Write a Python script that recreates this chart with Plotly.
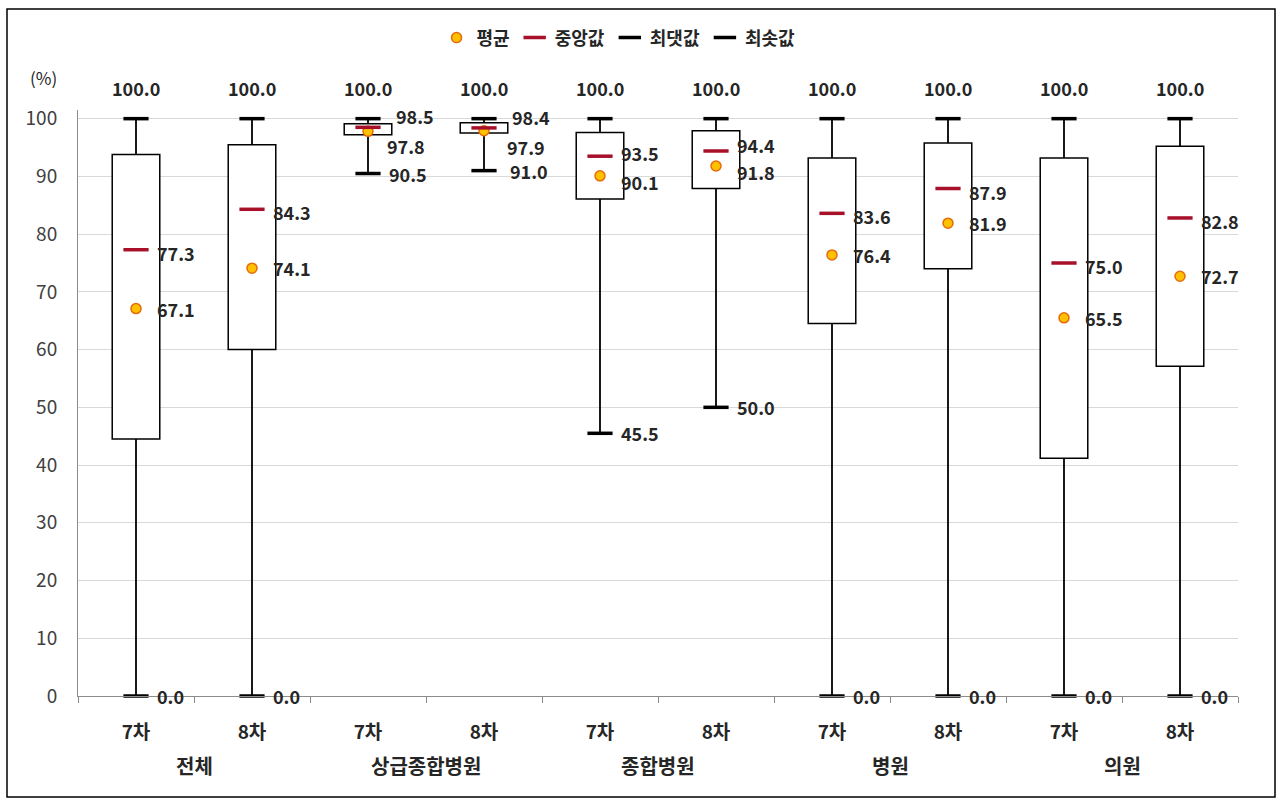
import plotly.graph_objects as go

# ---------------- data ----------------
groups = ["전체", "상급종합병원", "종합병원", "병원", "의원"]
rounds = ["7차", "8차"]
q1 = [44.5, 60.0, 97.2, 97.5, 86.1, 87.9, 64.5, 74.0, 41.2, 57.1]
q3 = [93.8, 95.5, 99.1, 99.3, 97.6, 97.9, 93.2, 95.8, 93.2, 95.2]
median = [77.3, 84.3, 98.5, 98.4, 93.5, 94.4, 83.6, 87.9, 75.0, 82.8]
mean = [67.1, 74.1, 97.8, 97.9, 90.1, 91.8, 76.4, 81.9, 65.5, 72.7]
maximum = [100.0, 100.0, 100.0, 100.0, 100.0, 100.0, 100.0, 100.0, 100.0, 100.0]
minimum = [0.0, 0.0, 90.5, 91.0, 45.5, 50.0, 0.0, 0.0, 0.0, 0.0]
y_ticks = [0, 10, 20, 30, 40, 50, 60, 70, 80, 90, 100]

# ---------------- styles ----------------
FONT = "Noto Sans CJK KR"
TXT = "#262626"
MED_COLOR = "#A8102A"
MEAN_FILL = "#FFC000"
MEAN_LINE = "#E46C0A"

# label offsets (px) per category: (xshift, yshift)
med_off = [(19, -3)] * 10
mean_off = [(19, 0)] * 10
min_off = [(19, 0)] * 10
med_off = list(med_off); mean_off = list(mean_off); min_off = list(min_off)
med_off[2] = (26, 11); mean_off[2] = (17, -15)
med_off[3] = (26, 11); mean_off[3] = (21, -16); min_off[3] = (24, 0)
med_off[4] = (19, 3); mean_off[4] = (19, -6)
med_off[5] = (19, 6); mean_off[5] = (19, -6)

categories = [(g, r) for g in groups for r in rounds]
xpos = list(range(len(categories)))

fig = go.Figure()

# boxes (Q1..Q3)
fig.add_trace(go.Bar(
    x=xpos, y=[b - a for a, b in zip(q1, q3)], base=q1, width=0.41,
    marker=dict(color="white", line=dict(color="black", width=1.5)),
    showlegend=False, hoverinfo="skip"))

# upper whiskers (Q3 -> max)
fig.add_trace(go.Scatter(
    x=xpos, y=q3, mode="markers", marker=dict(size=1, color="rgba(0,0,0,0)"),
    error_y=dict(type="data", symmetric=False,
                 array=[m - b for m, b in zip(maximum, q3)],
                 arrayminus=[0] * len(q3), width=0, thickness=1.8, color="black"),
    showlegend=False, hoverinfo="skip"))
# lower whiskers (min -> Q1)
fig.add_trace(go.Scatter(
    x=xpos, y=q1, mode="markers", marker=dict(size=1, color="rgba(0,0,0,0)"),
    error_y=dict(type="data", symmetric=False,
                 array=[0] * len(q1),
                 arrayminus=[a - m for a, m in zip(q1, minimum)], width=0, thickness=1.8, color="black"),
    showlegend=False, hoverinfo="skip"))

# mean
fig.add_trace(go.Scatter(
    x=xpos, y=mean, mode="markers", name="평균",
    marker=dict(symbol="circle", size=10, color=MEAN_FILL, line=dict(color=MEAN_LINE, width=1.5))))
# median
fig.add_trace(go.Scatter(
    x=xpos, y=median, mode="markers", name="중앙값",
    marker=dict(symbol="line-ew", size=18, line=dict(color=MED_COLOR, width=3.5))))
# max
fig.add_trace(go.Scatter(
    x=xpos, y=maximum, mode="markers", name="최댓값", cliponaxis=False,
    marker=dict(symbol="line-ew", size=18, line=dict(color="black", width=3.5))))
# min
fig.add_trace(go.Scatter(
    x=xpos, y=minimum, mode="markers", name="최솟값", cliponaxis=False,
    marker=dict(symbol="line-ew", size=18, line=dict(color="black", width=3.5))))

# ---------------- labels ----------------
ann = []
lab_font = dict(family=FONT, size=18, color=TXT, weight=700)
for i in xpos:
    ann.append(dict(x=i, y=maximum[i], xref="x", yref="y", text=f"{maximum[i]:.1f}",
                    showarrow=False, yshift=31, xanchor="center", yanchor="middle", font=lab_font))
    ann.append(dict(x=i, y=median[i], xref="x", yref="y", text=f"{median[i]:.1f}",
                    showarrow=False, xshift=med_off[i][0], yshift=med_off[i][1],
                    xanchor="left", yanchor="middle", font=lab_font))
    ann.append(dict(x=i, y=mean[i], xref="x", yref="y", text=f"{mean[i]:.1f}",
                    showarrow=False, xshift=mean_off[i][0], yshift=mean_off[i][1],
                    xanchor="left", yanchor="middle", font=lab_font))
    ann.append(dict(x=i, y=minimum[i], xref="x", yref="y", text=f"{minimum[i]:.1f}",
                    showarrow=False, xshift=min_off[i][0], yshift=min_off[i][1],
                    xanchor="left", yanchor="middle", font=lab_font))

# group labels
for gi, g in enumerate(groups):
    gx = (xpos[2 * gi] + xpos[2 * gi + 1]) / 2
    ann.append(dict(x=gx, y=-0.119, xref="x", yref="paper", text=g, showarrow=False,
                    xanchor="center", yanchor="middle",
                    font=dict(family=FONT, size=20, color=TXT, weight=700)))

# (%) unit label
ann.append(dict(x=-0.030, y=1.055, xref="paper", yref="paper", text="(%)", showarrow=False,
                xanchor="center", yanchor="middle", font=dict(family=FONT, size=17, color=TXT)))

fig.update_layout(
    width=1278, height=798,
    margin=dict(l=78, r=40, t=110, b=102),
    paper_bgcolor="white", plot_bgcolor="white",
    barmode="overlay",
    font=dict(family=FONT, size=18, color=TXT),
    annotations=ann,
    legend=dict(orientation="h", x=0.466, xanchor="center", y=1.123, yanchor="middle",
                font=dict(family=FONT, size=18, color=TXT, weight=700),
                itemwidth=30, tracegroupgap=0, bgcolor="rgba(0,0,0,0)"),
    xaxis=dict(range=[-0.5, len(xpos) - 0.5], tickmode="array", tickvals=xpos,
               ticktext=[r for (_, r) in categories], ticks="", showgrid=False,
               showline=True, linecolor="#8C8C8C", linewidth=1, zeroline=False,
               ticklabelstandoff=19, tickfont=dict(family=FONT, size=19, color=TXT, weight=700),
               minor=dict(tickmode="linear", tick0=-0.5, dtick=1, ticks="outside",
                          ticklen=6, tickcolor="#8C8C8C", showgrid=False)),
    yaxis=dict(range=[0, 101.5], tickmode="array", tickvals=y_ticks, showgrid=True,
               gridcolor="#D9D9D9", gridwidth=1, showline=True, linecolor="#8C8C8C",
               linewidth=1, zeroline=False, ticks="", ticklabelstandoff=16,
               tickfont=dict(family=FONT, size=19, color="#404040")),
    shapes=[dict(type="rect", xref="paper", yref="paper",
                 x0=(7 - 78) / 1160, x1=(1275 - 78) / 1160,
                 y0=(696 - 797) / 586, y1=(696 - 9) / 586,
                 line=dict(color="black", width=1.5), fillcolor="rgba(0,0,0,0)", layer="below")],
)

fig.write_html("out.html", config={"displayModeBar": False},
               post_script="document.body.style.margin='0';")
